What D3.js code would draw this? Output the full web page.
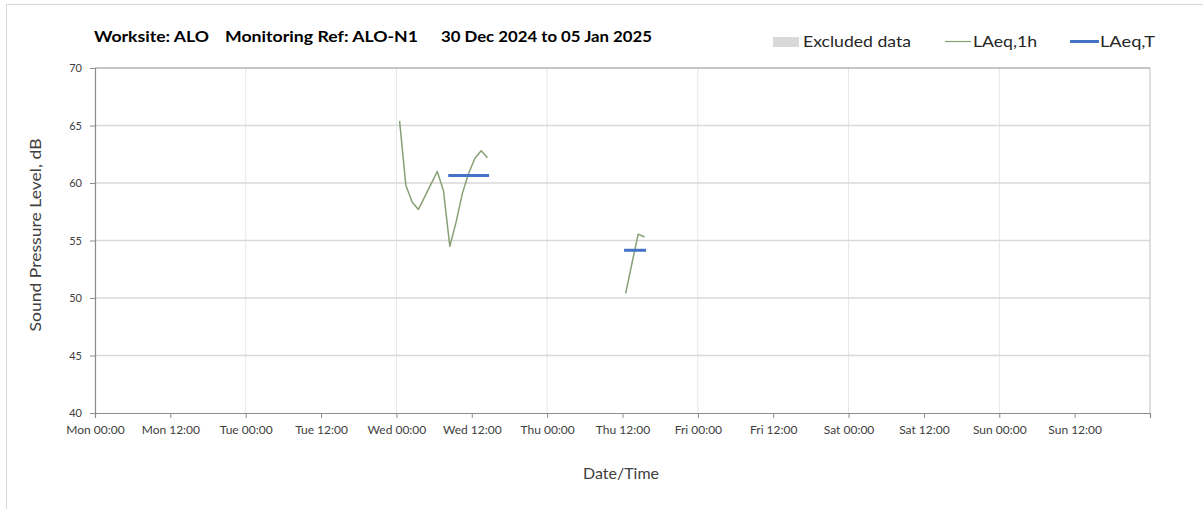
<!DOCTYPE html>
<html>
<head>
<meta charset="utf-8">
<script src="https://cdn.jsdelivr.net/npm/d3@7"></script>
<style>
  body { margin: 0; background: #fff; }
  svg { display: block; font-family: Lato, "Open Sans", sans-serif; }
</style>
</head>
<body>
<svg id="chart" width="1203" height="509"></svg>
<script>
// LAeq,1h samples (hour-centred timestamps)
const wedTimes = ['2025-01-01T00:30', '2025-01-01T01:30', '2025-01-01T02:30', '2025-01-01T03:30',
  '2025-01-01T04:30', '2025-01-01T05:30', '2025-01-01T06:30', '2025-01-01T07:30',
  '2025-01-01T08:30', '2025-01-01T09:30', '2025-01-01T10:30', '2025-01-01T11:30',
  '2025-01-01T12:30', '2025-01-01T13:30', '2025-01-01T14:30'];
const wedLevels = [65.4, 59.8, 58.35, 57.7, 58.8, 59.9, 61.0, 59.3, 54.5, 56.6, 59.1, 60.85, 62.15, 62.8, 62.2];

const thuTimes = ['2025-01-02T12:30', '2025-01-02T13:30', '2025-01-02T14:30', '2025-01-02T15:30'];
const thuLevels = [50.4, 53.0, 55.55, 55.3];

// LAeq,T periods
const periodStart = ['2025-01-01T08:15', '2025-01-02T12:15'];
const periodEnd = ['2025-01-01T14:45', '2025-01-02T15:45'];
const periodLevel = [60.65, 54.15];

const yTicks = [40, 45, 50, 55, 60, 65, 70];
const weekStart = '2024-12-30T00:00';
const weekEnd = '2025-01-06T00:00';

const svg = d3.select('#chart');
const parse = d3.timeParse('%Y-%m-%dT%H:%M');

const plotLeft = 95, plotRight = 1150, plotTop = 68, plotBottom = 413;

// page frame
svg.append('rect')
  .attr('x', 6.5).attr('y', 4.5)
  .attr('width', 1210).attr('height', 520)
  .attr('fill', 'none').attr('stroke', '#d9d9d9');

let xScale = d3.scaleTime()
  .domain([parse(weekStart), parse(weekEnd)])
  .range([plotLeft, plotRight]);
let yScale = d3.scaleLinear()
  .domain([40, 70])
  .range([plotBottom, plotTop]);

const halfDays = d3.timeHour.every(12).range(parse(weekStart), d3.timeMinute.offset(parse(weekEnd), 1));
const days = halfDays.filter(d => d.getHours() === 0);

// vertical grid (daily)
svg.append('g')
  .selectAll('line')
  .data(days.slice(1, -1))
  .enter()
  .append('line')
  .attr('x1', d => xScale(d)).attr('x2', d => xScale(d))
  .attr('y1', plotTop).attr('y2', plotBottom)
  .attr('stroke', '#e6e6e6').attr('stroke-width', 1);

// horizontal grid
svg.append('g')
  .selectAll('line')
  .data(yTicks.slice(1, -1))
  .enter()
  .append('line')
  .attr('x1', plotLeft).attr('x2', plotRight)
  .attr('y1', d => yScale(d)).attr('y2', d => yScale(d))
  .attr('stroke', '#d9d9d9').attr('stroke-width', 1.5);

// plot border top / right
svg.append('line').attr('x1', plotLeft).attr('x2', plotRight).attr('y1', plotTop).attr('y2', plotTop)
  .attr('stroke', '#8c8c8c');
svg.append('line').attr('x1', plotRight).attr('x2', plotRight).attr('y1', plotTop).attr('y2', plotBottom)
  .attr('stroke', '#bfbfbf');

// axes
const fmt = d3.timeFormat('%a %H:%M');
let xAxis = svg.append('g')
  .attr('transform', `translate(0,${plotBottom})`)
  .call(d3.axisBottom(xScale)
    .tickValues(halfDays)
    .tickSize(5)
    .tickPadding(7)
    .tickFormat((d, i) => i < halfDays.length - 1 ? fmt(d) : ''));
xAxis.select('.domain').attr('stroke', '#8c8c8c').attr('stroke-width', 1.2);
xAxis.selectAll('.tick line').attr('stroke', '#8c8c8c');
xAxis.selectAll('text')
  .attr('font-family', 'Lato, sans-serif')
  .attr('font-size', 12)
  .attr('fill', '#404040');

let yAxis = svg.append('g')
  .attr('transform', `translate(${plotLeft},0)`)
  .call(d3.axisLeft(yScale)
    .tickValues(yTicks)
    .tickSize(5)
    .tickPadding(8));
yAxis.select('.domain').attr('stroke', '#8c8c8c').attr('stroke-width', 1.2);
yAxis.selectAll('.tick line').attr('stroke', '#8c8c8c');
yAxis.selectAll('text')
  .attr('font-family', 'Lato, sans-serif')
  .attr('font-size', 11)
  .attr('fill', '#404040');

// LAeq,1h lines
const line = d3.line()
  .x(d => xScale(d.t))
  .y(d => yScale(d.v));
const segments = [
  wedTimes.map((t, i) => ({ t: parse(t), v: wedLevels[i] })),
  thuTimes.map((t, i) => ({ t: parse(t), v: thuLevels[i] }))
];
svg.append('g')
  .selectAll('path')
  .data(segments)
  .enter()
  .append('path')
  .attr('fill', 'none')
  .attr('stroke', '#87a076')
  .attr('stroke-width', 1.5)
  .attr('stroke-linejoin', 'round')
  .attr('d', line);

// LAeq,T bars
svg.append('g')
  .selectAll('line')
  .data(periodLevel)
  .enter()
  .append('line')
  .attr('x1', (d, i) => xScale(parse(periodStart[i])))
  .attr('x2', (d, i) => xScale(parse(periodEnd[i])))
  .attr('y1', d => yScale(d)).attr('y2', d => yScale(d))
  .attr('stroke', '#4472c4')
  .attr('stroke-width', 3);

// title
const title = [
  { text: 'Worksite: ALO', x: 94, w: 115 },
  { text: 'Monitoring Ref: ALO-N1', x: 225, w: 193 },
  { text: '30 Dec 2024 to 05 Jan 2025', x: 441, w: 211 }
];
svg.append('g')
  .selectAll('text')
  .data(title)
  .enter()
  .append('text')
  .attr('x', d => d.x).attr('y', 42)
  .attr('textLength', d => d.w)
  .attr('lengthAdjust', 'spacingAndGlyphs')
  .attr('font-size', 15.5)
  .attr('font-weight', 'bold')
  .attr('fill', '#000')
  .text(d => d.text);

// legend
const legend = svg.append('g');
legend.append('rect').attr('x', 773).attr('y', 37).attr('width', 26).attr('height', 10).attr('fill', '#d9d9d9');
legend.append('text').attr('x', 803).attr('y', 47).attr('font-size', 16).attr('fill', '#262626')
  .attr('textLength', 108).attr('lengthAdjust', 'spacingAndGlyphs').text('Excluded data');
legend.append('line').attr('x1', 945).attr('x2', 971).attr('y1', 41.5).attr('y2', 41.5)
  .attr('stroke', '#87a076').attr('stroke-width', 1.2);
legend.append('text').attr('x', 973).attr('y', 47).attr('font-size', 16).attr('fill', '#262626')
  .attr('textLength', 64).attr('lengthAdjust', 'spacingAndGlyphs').text('LAeq,1h');
legend.append('line').attr('x1', 1070).attr('x2', 1099).attr('y1', 41.5).attr('y2', 41.5)
  .attr('stroke', '#4472c4').attr('stroke-width', 3);
legend.append('text').attr('x', 1100).attr('y', 47).attr('font-size', 16).attr('fill', '#262626')
  .attr('textLength', 55).attr('lengthAdjust', 'spacingAndGlyphs').text('LAeq,T');

// axis titles
svg.append('text')
  .attr('transform', 'translate(41,235) rotate(-90)')
  .attr('text-anchor', 'middle')
  .attr('font-size', 16)
  .attr('textLength', 193)
  .attr('lengthAdjust', 'spacingAndGlyphs')
  .attr('fill', '#404040')
  .text('Sound Pressure Level, dB');
svg.append('text')
  .attr('x', 621).attr('y', 479)
  .attr('text-anchor', 'middle')
  .attr('font-size', 16)
  .attr('fill', '#404040')
  .text('Date/Time');
</script>
</body>
</html>
